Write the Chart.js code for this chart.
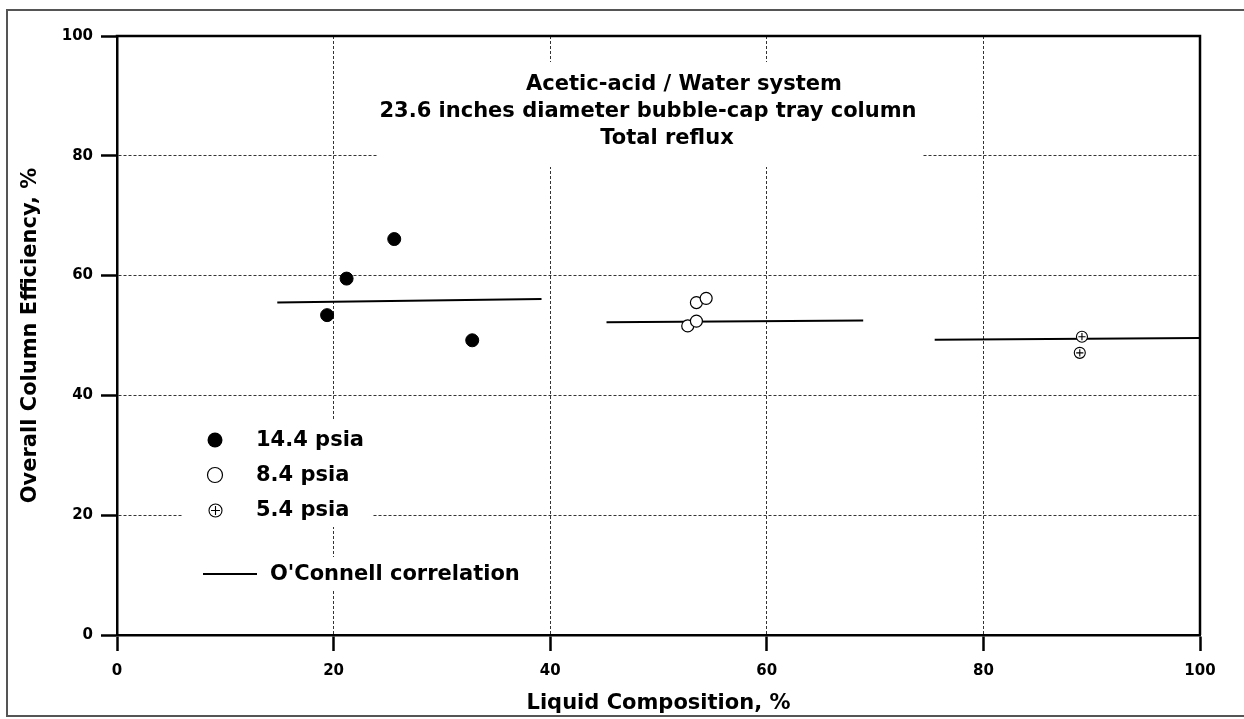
<!DOCTYPE html>
<html><head><meta charset="utf-8">
<script src="https://cdn.jsdelivr.net/npm/chart.js@4.4.1/dist/chart.umd.min.js"></script>
<style>html,body{margin:0;padding:0;background:#fff}#wrap{width:1244px;height:719px;position:relative}</style>
</head><body><div id="wrap"><canvas id="c" width="1244" height="719"></canvas></div>
<script>
// ---- data ----
const xTicks = [0, 20, 40, 60, 80, 100];
const yTicks = [0, 20, 40, 60, 80, 100];
const titleLines = ["Acetic-acid / Water system", "23.6 inches diameter bubble-cap tray column", "Total reflux"];
const xLabel = "Liquid Composition, %";
const yLabel = "Overall Column Efficiency, %";
const p144X = [19.4, 21.2, 25.6, 32.8];
const p144Y = [53.4, 59.5, 66.1, 49.2];
const p84X = [52.7, 53.5, 53.5, 54.4];
const p84Y = [51.6, 52.4, 55.5, 56.2];
const p54X = [88.9, 89.1];
const p54Y = [47.1, 49.8];
const corr1X = [14.8, 39.2], corr1Y = [55.5, 56.1];
const corr2X = [45.2, 68.9], corr2Y = [52.2, 52.5];
const corr3X = [75.5, 100], corr3Y = [49.3, 49.6];
const legendLabels = ["14.4 psia", "8.4 psia", "5.4 psia", "O'Connell correlation"];

const FONT = "'DejaVu Sans', sans-serif";
const pts = (xs, ys) => xs.map((x, i) => ({x: x, y: ys[i]}));

function lineDs(xs, ys) {
  return {type: 'scatter', data: pts(xs, ys), showLine: true, pointRadius: 0,
    borderColor: '#000', borderWidth: 2, backgroundColor: '#000'};
}

const decor = {
  id: 'decor',
  beforeDatasetsDraw(chart) {
    const ctx = chart.ctx;
    ctx.save();
    ctx.fillStyle = '#fff';
    // title box & legend boxes hide gridlines
    ctx.fillRect(377, 62, 545, 105);
    ctx.fillRect(183, 420, 190, 107);
    ctx.fillRect(195, 557, 345, 34);
    ctx.fillStyle = '#000';
    ctx.textBaseline = 'middle';
    ctx.textAlign = 'center';
    ctx.font = 'bold 21px ' + FONT;
    const cx = [684, 648, 667];
    const cy = [85, 112, 139];
    titleLines.forEach((t, i) => ctx.fillText(t, cx[i], cy[i]));
    // legend
    ctx.textAlign = 'left';
    ctx.font = 'bold 21px ' + FONT;
    const ly = [440, 475, 510];
    ctx.beginPath(); ctx.arc(215, ly[0], 7.5, 0, Math.PI * 2); ctx.fill();
    ctx.lineWidth = 1.2; ctx.strokeStyle = '#000';
    ctx.beginPath(); ctx.arc(215, ly[1], 7.5, 0, Math.PI * 2); ctx.stroke();
    ctx.lineWidth = 1.1;
    ctx.beginPath(); ctx.arc(215.5, ly[2] + 0.5, 6.5, 0, Math.PI * 2); ctx.stroke();
    ctx.beginPath(); ctx.moveTo(211, ly[2] + 0.5); ctx.lineTo(220, ly[2] + 0.5);
    ctx.moveTo(215.5, ly[2] - 4); ctx.lineTo(215.5, ly[2] + 5); ctx.stroke();
    for (let i = 0; i < 3; i++) ctx.fillText(legendLabels[i], 256, ly[i] + 1);
    ctx.lineWidth = 2;
    ctx.beginPath(); ctx.moveTo(203, 574); ctx.lineTo(257, 574); ctx.stroke();
    ctx.fillText(legendLabels[3], 270, 575);
    ctx.restore();
  },
  afterDraw(chart) {
    const ctx = chart.ctx, a = chart.chartArea;
    ctx.save();
    ctx.strokeStyle = '#000';
    ctx.lineWidth = 2.5;
    ctx.beginPath();
    ctx.moveTo(a.left - 1.25, a.top); ctx.lineTo(a.right, a.top); ctx.lineTo(a.right, a.bottom);
    ctx.stroke();
    ctx.strokeStyle = '#555';
    ctx.lineWidth = 2;
    ctx.strokeRect(7, 10, 1260, 706);
    ctx.restore();
  }
};

const gridColor = (c) => (c.tick && (c.tick.value === 0 || c.tick.value === 100)) ? 'rgba(0,0,0,0)' : '#333';

new Chart(document.getElementById('c'), {
  type: 'scatter',
  data: {
    datasets: [
      {label: legendLabels[0], data: pts(p144X, p144Y), pointStyle: 'circle', pointRadius: 6.5,
        backgroundColor: '#000', borderColor: '#000', borderWidth: 1},
      {label: legendLabels[1], data: pts(p84X, p84Y), pointStyle: 'circle', pointRadius: 6,
        backgroundColor: '#fff', borderColor: '#000', borderWidth: 1.2},
      {label: legendLabels[2] + ' +', data: pts(p54X, p54Y), pointStyle: 'cross', pointRadius: 3.6,
        backgroundColor: '#000', borderColor: '#000', borderWidth: 1.1},
      {label: legendLabels[2], data: pts(p54X, p54Y), pointStyle: 'circle', pointRadius: 5.5,
        backgroundColor: '#fff', borderColor: '#000', borderWidth: 1.1},
      lineDs(corr1X, corr1Y),
      lineDs(corr2X, corr2Y),
      lineDs(corr3X, corr3Y)
    ]
  },
  options: {
    responsive: false,
    animation: false,
    devicePixelRatio: 1,
    layout: {padding: {left: 8, top: 36, right: 44, bottom: 3}},
    plugins: {legend: {display: false}, tooltip: {enabled: false}, title: {display: false}},
    scales: {
      x: {
        type: 'linear', min: 0, max: 100,
        afterBuildTicks: (s) => { s.ticks = xTicks.map(v => ({value: v})); },
        afterFit: (s) => { s.height = 81; },
        ticks: {color: '#000', font: {family: FONT, weight: 'bold', size: 15}, padding: 11, maxRotation: 0},
        grid: {color: gridColor, lineWidth: 1, tickLength: 16, tickColor: '#000', tickWidth: 2.5, drawTicks: true},
        border: {display: true, color: '#000', width: 2.5, dash: [3, 2]},
        title: {display: true, text: xLabel, color: '#000', font: {family: FONT, weight: 'bold', size: 21}, padding: {top: 0, bottom: 0}}
      },
      y: {
        type: 'linear', min: 0, max: 100,
        afterBuildTicks: (s) => { s.ticks = yTicks.map(v => ({value: v})); },
        afterFit: (s) => { s.width = 109; },
        ticks: {color: '#000', font: {family: FONT, weight: 'bold', size: 15}, padding: 8},
        grid: {color: gridColor, lineWidth: 1, tickLength: 16, tickColor: '#000', tickWidth: 2.5, drawTicks: true},
        border: {display: true, color: '#000', width: 2.5, dash: [3, 2]},
        title: {display: true, text: yLabel, color: '#000', font: {family: FONT, weight: 'bold', size: 21}, padding: {top: 10, bottom: 0}}
      }
    }
  },
  plugins: [decor]
});
</script>
</body></html>
